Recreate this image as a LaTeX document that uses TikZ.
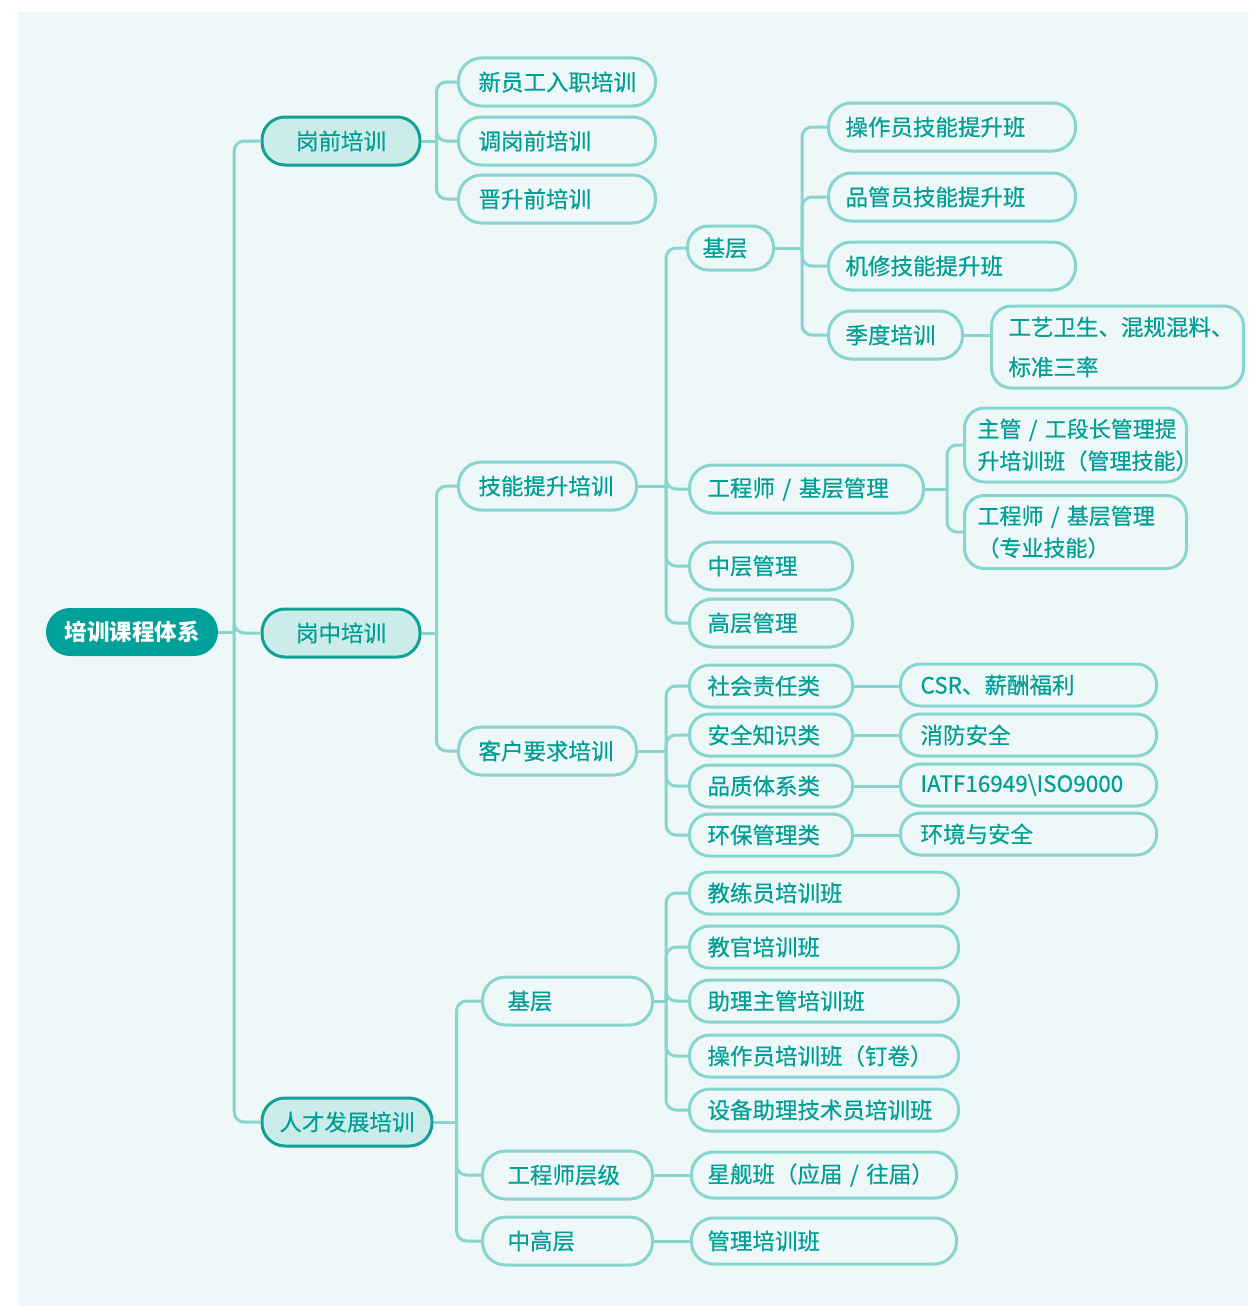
\documentclass[tikz,border=0pt]{standalone}
\usepackage{fontspec}
\setmainfont{Noto Sans CJK SC}
\newfontfamily\medfont{Noto Sans CJK SC}[FakeBold=0.45]
\definecolor{bgc}{HTML}{EFF8F9}
\definecolor{lc}{HTML}{88D5CF}
\definecolor{tc}{HTML}{009F95}
\definecolor{rootc}{HTML}{00A199}
\definecolor{lonef}{HTML}{CCECEA}
\definecolor{loned}{HTML}{13A097}
\begin{document}
\begin{tikzpicture}[x=1pt,y=-1pt,
  conn/.style={draw=lc, line width=3pt, rounded corners=10pt},
  box/.style={draw=lc, line width=3pt, fill=bgc, text=tc, font=\medfont\fontsize{22.5}{40}\selectfont,
    inner xsep=18pt, inner ysep=0pt, align=left, anchor=west, rounded corners=23pt, minimum height=48pt},
  boxs/.style={box, minimum height=42pt, rounded corners=20pt},
  boxm/.style={box, minimum height=46pt, rounded corners=22pt},
  boxtwo/.style={box, font=\medfont\fontsize{22}{32}\selectfont, rounded corners=20pt},
  lone/.style={draw=loned, line width=3pt, fill=lonef, text=tc, font=\medfont\fontsize{22.5}{30}\selectfont,
    rounded corners=23pt, minimum height=48pt, anchor=center, inner sep=0pt},
  rootn/.style={fill=rootc, text=white, font=\fontsize{22.5}{30}\selectfont\bfseries,
    rounded corners=24pt, minimum height=48pt, minimum width=172pt, inner sep=0pt, anchor=center}
]
\useasboundingbox (0,0) rectangle (1248,1306);
\fill[bgc] (18,12) rectangle (1248,1306);

% root and level 1
\node[rootn] (root) at (132,632) {培训课程体系};
\node[lone, minimum width=158pt] (gq) at (341,141) {岗前培训};
\node[lone, minimum width=158pt] (gz) at (341,633) {岗中培训};
\node[lone, minimum width=170pt] (rc) at (347,1122) {人才发展培训};

% 岗前
\node[box, inner xsep=20pt, text width=157pt] (xy) at (457,82) {新员工入职培训};
\node[box, inner xsep=20pt, text width=157pt] (dg) at (457,141) {调岗前培训};
\node[box, inner xsep=20pt, text width=157pt] (js) at (457,199) {晋升前培训};

% 岗中
\node[box, inner xsep=20pt, text width=138pt] (jn) at (457,486) {技能提升培训};
\node[box, inner xsep=20pt, text width=138pt] (kh) at (457,751) {客户要求培训};

\node[box, inner xsep=15pt, text width=56pt, minimum height=44pt, rounded corners=21pt] (jc) at (686,248) {基层};
\node[box, text width=198pt] (gcs) at (688,489) {工程师~/~基层管理};
\node[box, text width=127pt] (zc) at (688,566) {中层管理};
\node[box, text width=127pt] (gc) at (688,623) {高层管理};

\node[box, inner xsep=17pt, text width=213pt] (czy) at (827,127) {操作员技能提升班};
\node[box, inner xsep=17pt, text width=213pt] (pgy) at (827,197) {品管员技能提升班};
\node[box, inner xsep=17pt, text width=213pt] (jx) at (827,266) {机修技能提升班};
\node[box, inner xsep=17pt, text width=100pt] (jd) at (827,335) {季度培训};
\node[box, inner xsep=17pt, text width=218pt, minimum height=82pt, rounded corners=20pt] (gy) at (990,347) {工艺卫生、混规混料、\\标准三率};

\node[boxtwo, inner xsep=13pt, text width=196pt, minimum height=74pt] (zg) at (963,445) {主管~/~工段长管理提\\升培训班（管理技能）};
\node[boxtwo, inner xsep=13pt, text width=196pt, minimum height=73pt] (gzj) at (963,532) {工程师~/~基层管理\\（专业技能）};

\node[boxs, text width=127pt] (sh) at (688,686) {社会责任类};
\node[boxs, text width=127pt] (aq) at (688,735) {安全知识类};
\node[boxs, text width=127pt] (pz) at (688,786) {品质体系类};
\node[boxs, text width=127pt] (hb) at (688,835) {环保管理类};

\node[boxs, inner xsep=20pt, text width=216pt] (csr) at (899,685) {CSR、薪酬福利};
\node[boxs, inner xsep=20pt, text width=216pt] (xf) at (899,735) {消防安全};
\node[boxs, inner xsep=20pt, text width=216pt] (iatf) at (899,785) {IATF16949\textbackslash ISO9000};
\node[boxs, inner xsep=20pt, text width=216pt] (hj) at (899,834) {环境与安全};

% 人才发展
\node[box, inner xsep=25pt, text width=120pt] (jb) at (481,1001) {基层};
\node[box, inner xsep=25pt, text width=120pt] (gcj) at (481,1175) {工程师层级};
\node[box, inner xsep=25pt, text width=120pt] (zgc) at (481,1241) {中高层};

\node[boxs, text width=233pt] (jly) at (688,893) {教练员培训班};
\node[boxs, text width=233pt] (jg) at (688,947) {教官培训班};
\node[boxs, text width=233pt] (zl) at (688,1001) {助理主管培训班};
\node[boxs, text width=233pt] (czd) at (688,1056) {操作员培训班（钉卷）};
\node[boxs, text width=233pt] (sb) at (688,1110) {设备助理技术员培训班};

\node[boxm, inner xsep=16pt, text width=233pt] (xj) at (690,1175) {星舰班（应届~/~往届）};
\node[boxm, inner xsep=16pt, text width=233pt] (gl) at (690,1241) {管理培训班};

% junctions
\coordinate (jR) at ([xshift=16pt]root.east);
\coordinate (jGQ) at ([xshift=15pt]gq.east);
\coordinate (jGZ) at ([xshift=15pt]gz.east);
\coordinate (jJN) at ([xshift=28pt]jn.east);
\coordinate (jKH) at ([xshift=28pt]kh.east);
\coordinate (jJC) at ([xshift=27pt]jc.east);
\coordinate (jGCS) at ([xshift=22pt]gcs.east);
\coordinate (jRC) at ([xshift=23pt]rc.east);
\coordinate (jJB) at ([xshift=12pt]jb.east);

% connectors
\draw[conn] (root.east) -- (jR);
\foreach \c in {gq,gz,rc} \draw[conn] (jR) |- (\c.west);
\draw[conn] (gq.east) -- (jGQ);
\foreach \c in {xy,dg,js} \draw[conn] (jGQ) |- (\c.west);
\draw[conn] (gz.east) -- (jGZ);
\foreach \c in {jn,kh} \draw[conn] (jGZ) |- (\c.west);
\draw[conn] (jn.east) -- (jJN);
\foreach \c in {jc,gcs,zc,gc} \draw[conn] (jJN) |- (\c.west);
\draw[conn] (jc.east) -- (jJC);
\foreach \c in {czy,pgy,jx,jd} \draw[conn] (jJC) |- (\c.west);
\draw[conn] (jd.east) -- (jd.east -| gy.west);
\draw[conn] (gcs.east) -- (jGCS);
\foreach \c in {zg,gzj} \draw[conn] (jGCS) |- (\c.west);
\draw[conn] (kh.east) -- (jKH);
\foreach \c in {sh,aq,pz,hb} \draw[conn] (jKH) |- (\c.west);
\draw[conn] (sh.east) -- (sh.east -| csr.west);
\draw[conn] (aq.east) -- (aq.east -| xf.west);
\draw[conn] (pz.east) -- (pz.east -| iatf.west);
\draw[conn] (hb.east) -- (hb.east -| hj.west);
\draw[conn] (rc.east) -- (jRC);
\foreach \c in {jb,gcj,zgc} \draw[conn] (jRC) |- (\c.west);
\draw[conn] (jb.east) -- (jJB);
\foreach \c in {jly,jg,zl,czd,sb} \draw[conn] (jJB) |- (\c.west);
\draw[conn] (gcj.east) -- (gcj.east -| xj.west);
\draw[conn] (zgc.east) -- (zgc.east -| gl.west);
\end{tikzpicture}
\end{document}
